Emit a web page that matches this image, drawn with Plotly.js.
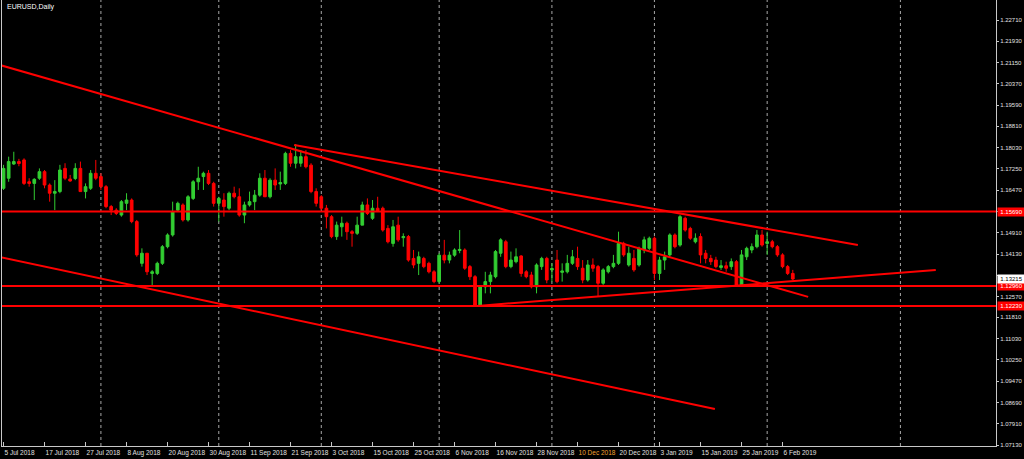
<!DOCTYPE html>
<html>
<head>
<meta charset="utf-8">
<script src="https://cdn.plot.ly/plotly-3.0.1.min.js"></script>
<style>
html,body{margin:0;padding:0;background:#000;}
#chart{width:1024px;height:459px;}
</style>
</head>
<body>
<div id="chart"></div>
<script>
// ---- Data (EURUSD Daily, 5 Jul 2018 .. 8 Feb 2019), bar index = trading day ----
const openP = [1.1654,1.1691,1.1743,1.1752,1.1758,1.1678,1.1672,1.1691,1.1715,1.1666,
1.1636,1.1642,1.1727,1.1688,1.1690,1.1727,1.1642,1.1654,1.1709,1.1697,
1.1660,1.1587,1.1574,1.1556,1.1599,1.1611,1.1532,1.1379,1.1416,1.1342,
1.1342,1.1379,1.1440,1.1483,1.1574,1.1593,1.1538,1.1617,1.1678,1.1697,
1.1709,1.1672,1.1599,1.1611,1.1581,1.1636,1.1623,1.1556,1.1593,1.1605,
1.1629,1.1691,1.1623,1.1684,1.1670,1.1672,1.1782,1.1746,1.1746,1.1770,
1.1739,1.1642,1.1623,1.1581,1.1550,1.1477,1.1513,1.1526,1.1495,1.1489,
1.1519,1.1593,1.1544,1.1581,1.1581,1.1507,1.1452,1.1519,1.1473,1.1477,
1.1397,1.1379,1.1397,1.1379,1.1348,1.1312,1.1409,1.1391,1.1409,1.1426,
1.1428,1.1367,1.1330,1.1226,1.1293,1.1312,1.1330,1.1416,1.1458,1.1367,
1.1385,1.1406,1.1348,1.1336,1.1293,1.1367,1.1397,1.1355,1.1391,1.1346,
1.1348,1.1379,1.1397,1.1361,1.1318,1.1373,1.1367,1.1306,1.1348,1.1367,
1.1379,1.1452,1.1373,1.1397,1.1373,1.1428,1.1434,1.1471,1.1342,1.1391,
1.1410,1.1483,1.1446,1.1544,1.1507,1.1458,1.1477,1.1416,1.1397,1.1391,
1.1364,1.1370,1.1367,1.1385,1.1300,1.1403,1.1428,1.1440,1.1483,1.1452,
1.1458,1.1440,1.1410,1.1367,1.1342];
const highP = [1.1740,1.1770,1.1788,1.1762,1.1764,1.1691,1.1691,1.1727,1.1721,1.1672,
1.1684,1.1740,1.1746,1.1703,1.1746,1.1752,1.1672,1.1721,1.1758,1.1709,
1.1666,1.1593,1.1581,1.1611,1.1636,1.1617,1.1538,1.1434,1.1416,1.1354,
1.1385,1.1446,1.1489,1.1605,1.1605,1.1599,1.1629,1.1684,1.1733,1.1715,
1.1721,1.1678,1.1623,1.1636,1.1642,1.1660,1.1654,1.1605,1.1642,1.1648,
1.1709,1.1721,1.1691,1.1727,1.1715,1.1788,1.1794,1.1816,1.1794,1.1794,
1.1746,1.1654,1.1629,1.1593,1.1556,1.1532,1.1550,1.1532,1.1501,1.1550,
1.1605,1.1617,1.1611,1.1623,1.1587,1.1519,1.1538,1.1550,1.1489,1.1483,
1.1428,1.1422,1.1403,1.1385,1.1354,1.1416,1.1465,1.1422,1.1434,1.1501,
1.1434,1.1373,1.1336,1.1293,1.1348,1.1348,1.1428,1.1471,1.1465,1.1422,
1.1434,1.1409,1.1354,1.1348,1.1379,1.1403,1.1403,1.1379,1.1428,1.1379,
1.1410,1.1428,1.1440,1.1391,1.1391,1.1397,1.1373,1.1361,1.1373,1.1410,
1.1495,1.1458,1.1440,1.1428,1.1440,1.1477,1.1477,1.1477,1.1403,1.1422,
1.1489,1.1489,1.1556,1.1550,1.1513,1.1489,1.1489,1.1428,1.1410,1.1403,
1.1391,1.1385,1.1397,1.1391,1.1428,1.1440,1.1452,1.1501,1.1501,1.1495,
1.1465,1.1446,1.1416,1.1373,1.1355];
const lowP = [1.1648,1.1678,1.1740,1.1735,1.1666,1.1660,1.1611,1.1685,1.1654,1.1605,
1.1574,1.1636,1.1684,1.1678,1.1684,1.1642,1.1617,1.1648,1.1684,1.1648,
1.1581,1.1556,1.1556,1.1550,1.1574,1.1526,1.1403,1.1367,1.1336,1.1299,
1.1336,1.1373,1.1434,1.1477,1.1568,1.1532,1.1532,1.1611,1.1648,1.1648,
1.1666,1.1587,1.1532,1.1550,1.1574,1.1617,1.1550,1.1526,1.1587,1.1574,
1.1623,1.1623,1.1617,1.1648,1.1648,1.1666,1.1733,1.1727,1.1733,1.1727,
1.1636,1.1587,1.1574,1.1507,1.1471,1.1465,1.1477,1.1465,1.1440,1.1483,
1.1519,1.1556,1.1538,1.1568,1.1495,1.1452,1.1440,1.1458,1.1440,1.1385,
1.1361,1.1336,1.1361,1.1342,1.1306,1.1306,1.1379,1.1379,1.1403,1.1416,
1.1355,1.1318,1.1220,1.1220,1.1269,1.1269,1.1324,1.1403,1.1361,1.1361,
1.1379,1.1330,1.1324,1.1287,1.1269,1.1355,1.1306,1.1312,1.1306,1.1312,
1.1342,1.1373,1.1355,1.1306,1.1312,1.1348,1.1257,1.1300,1.1342,1.1361,
1.1373,1.1403,1.1367,1.1348,1.1367,1.1416,1.1428,1.1318,1.1318,1.1355,
1.1403,1.1434,1.1440,1.1495,1.1465,1.1452,1.1379,1.1379,1.1373,1.1361,
1.1355,1.1348,1.1355,1.1293,1.1293,1.1391,1.1416,1.1434,1.1440,1.1410,
1.1434,1.1403,1.1361,1.1336,1.1318];
const closeP = [1.1727,1.1752,1.1752,1.1745,1.1672,1.1672,1.1687,1.1715,1.1666,1.1636,
1.1642,1.1721,1.1691,1.1681,1.1727,1.1642,1.1660,1.1709,1.1691,1.1660,
1.1587,1.1574,1.1562,1.1605,1.1611,1.1532,1.1410,1.1416,1.1348,1.1348,
1.1379,1.1440,1.1483,1.1568,1.1599,1.1538,1.1623,1.1678,1.1691,1.1709,
1.1672,1.1599,1.1617,1.1587,1.1636,1.1623,1.1556,1.1593,1.1605,1.1629,
1.1691,1.1623,1.1684,1.1666,1.1675,1.1782,1.1746,1.1770,1.1770,1.1733,
1.1642,1.1599,1.1581,1.1550,1.1477,1.1519,1.1526,1.1495,1.1489,1.1519,
1.1593,1.1562,1.1581,1.1572,1.1501,1.1458,1.1513,1.1465,1.1477,1.1391,
1.1373,1.1403,1.1367,1.1348,1.1312,1.1409,1.1391,1.1409,1.1428,1.1430,
1.1361,1.1330,1.1226,1.1293,1.1312,1.1336,1.1422,1.1465,1.1367,1.1391,
1.1403,1.1342,1.1330,1.1293,1.1373,1.1397,1.1318,1.1360,1.1312,1.1351,
1.1379,1.1403,1.1367,1.1318,1.1373,1.1361,1.1306,1.1355,1.1367,1.1379,
1.1452,1.1410,1.1416,1.1355,1.1434,1.1465,1.1471,1.1342,1.1391,1.1403,
1.1483,1.1440,1.1550,1.1501,1.1471,1.1471,1.1410,1.1397,1.1385,1.1367,
1.1370,1.1361,1.1385,1.1300,1.1410,1.1434,1.1440,1.1483,1.1446,1.1458,
1.1440,1.1410,1.1367,1.1342,1.13215];

// date axis labels (every 8th trading bar)
const dateTickIdx = [0,8,16,24,32,40,48,56,64,72,80,88,96,104,112,120,128,136,144,152];
const dateLabels = ["5 Jul 2018","17 Jul 2018","27 Jul 2018","8 Aug 2018","20 Aug 2018","30 Aug 2018",
"11 Sep 2018","21 Sep 2018","3 Oct 2018","15 Oct 2018","25 Oct 2018","6 Nov 2018","16 Nov 2018",
"28 Nov 2018","10 Dec 2018","20 Dec 2018","3 Jan 2019","15 Jan 2019","25 Jan 2019","6 Feb 2019"];
// month-start grid bars
const monthGridIdx = [19,42,62,85,107,127,149,175];
// price axis labels
const priceTicks = [1.2271,1.2193,1.2115,1.2037,1.1959,1.1881,1.1803,1.1725,1.1647,1.1569,1.1491,
1.1413,1.1335,1.1257,1.1181,1.1103,1.1025,1.0947,1.0869,1.0791,1.0713];
const priceTickText = ["1.22710","1.21930","1.21150","1.20370","1.19590","1.18810","1.18030","1.17250",
"1.16470","","1.14910","1.14130","","1.12570","1.11810","1.11030","1.10250","1.09470",
"1.08690","1.07910","1.07130"];
// horizontal levels and trend lines [barIndex0, price0, barIndex1, price1]
const hLevels = [1.1569, 1.1296, 1.1223];
const hLevelText = ["1.15690","1.12960","1.12230"];
const trendLines = [
  [-0.7, 1.2106, 157.0, 1.1256],
  [56.7, 1.1813, 166.7, 1.1446],
  [-0.7, 1.1402, 138.8, 1.0845],
  [92.5, 1.1223, 181.9, 1.1355]
];
const lastPrice = 1.13215;

// ---- Build ----
const xIdx = openP.map((_, i) => i);
const RED = '#ff0000', GREEN = '#32cd32', AXC = '#c8c8c8';
const FONT = 'Liberation Sans, Arial, sans-serif';

const trace = {
  type: 'candlestick',
  x: xIdx, open: openP, high: highP, low: lowP, close: closeP,
  increasing: {line: {color: GREEN, width: 1}, fillcolor: GREEN},
  decreasing: {line: {color: RED, width: 1}, fillcolor: RED},
  whiskerwidth: 0,
  hoverinfo: 'skip',
  showlegend: false
};

const shapes = [];
monthGridIdx.forEach(i => shapes.push({
  type: 'line', xref: 'x', yref: 'paper', x0: i, x1: i, y0: 0, y1: 1,
  line: {color: '#a8a8a8', width: 1, dash: 'dot'}, layer: 'below'
}));
hLevels.forEach(p => shapes.push({
  type: 'line', xref: 'paper', yref: 'y', x0: 0, x1: 1, y0: p, y1: p,
  line: {color: RED, width: 2}, layer: 'above'
}));
trendLines.forEach(t => shapes.push({
  type: 'line', xref: 'x', yref: 'y', x0: t[0], y0: t[1], x1: t[2], y1: t[3],
  line: {color: RED, width: 2}, layer: 'above'
}));

const annotations = [];
annotations.push({
  xref: 'paper', yref: 'paper', x: 0, y: 1, xanchor: 'left', yanchor: 'top',
  xshift: 3, yshift: -1, text: 'EURUSD,Daily', showarrow: false,
  font: {family: FONT, size: 7, color: '#ffffff'}
});
hLevels.forEach((p, k) => annotations.push({
  xref: 'paper', yref: 'y', x: 1, y: p, xanchor: 'left', yanchor: 'middle', xshift: 1,
  text: hLevelText[k], showarrow: false, bgcolor: RED, borderpad: 1, width: 25,
  font: {family: FONT, size: 6, color: '#ffffff'}
}));
annotations.push({
  xref: 'paper', yref: 'y', x: 1, y: lastPrice, xanchor: 'left', yanchor: 'middle', xshift: 1,
  text: lastPrice.toFixed(5), showarrow: false, bgcolor: '#ffffff', borderpad: 1, width: 25,
  font: {family: FONT, size: 6, color: '#000000'}
});

const dateText = dateLabels.map(s => s === '10 Dec 2018' ? '<span style="color:#f0a030">' + s + '</span>' : s);

const layout = {
  width: 1024, height: 459,
  paper_bgcolor: '#000000', plot_bgcolor: '#000000',
  margin: {l: 2, r: 28, t: 0, b: 13, pad: 0},
  showlegend: false,
  xaxis: {
    type: 'linear', range: [-0.3, 193.65], fixedrange: true,
    rangeslider: {visible: false},
    showgrid: false, zeroline: false,
    showline: true, linecolor: AXC, linewidth: 1,
    tickmode: 'array', tickvals: dateTickIdx, ticktext: dateText,
    tickangle: 0, automargin: false,
    ticks: 'inside', ticklen: 4, tickcolor: AXC, tickwidth: 1,
    ticklabelposition: 'outside right', ticklabelstandoff: 0,
    tickfont: {family: FONT, size: 6.5, color: '#e0e0e0'}
  },
  yaxis: {
    side: 'right', range: [1.07094, 1.23443], fixedrange: true,
    showgrid: false, zeroline: false, automargin: false,
    showline: true, mirror: true, linecolor: AXC, linewidth: 1,
    tickmode: 'array', tickvals: priceTicks, ticktext: priceTickText,
    ticks: 'outside', ticklen: 2, tickcolor: AXC, tickwidth: 1,
    ticklabelstandoff: 0,
    tickfont: {family: FONT, size: 6, color: '#e0e0e0'}
  },
  boxgap: 0.25,
  shapes: shapes,
  annotations: annotations
};

Plotly.newPlot('chart', [trace], layout, {staticPlot: true, displayModeBar: false});
</script>
</body>
</html>
